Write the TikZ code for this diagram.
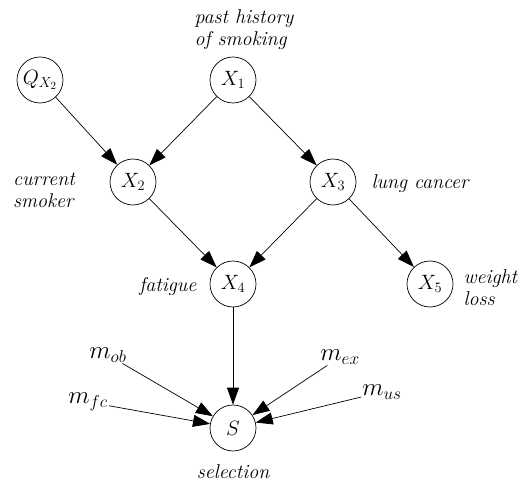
\documentclass[tikz,border=0pt]{standalone}
\usetikzlibrary{arrows.meta}
\begin{document}
\begin{tikzpicture}[x=1pt,y=-1pt,
    var/.style={draw,circle,minimum size=46pt,inner sep=0pt,line width=0.7pt,font=\fontsize{22}{24}\selectfont},
    mech/.style={inner sep=1pt,font=\fontsize{24}{26}\selectfont},
    lbl/.style={font=\fontsize{20}{22}\selectfont\itshape,align=left},
    edge/.style={-{Triangle[length=17pt,width=12pt]},line width=0.7pt}]
    \useasboundingbox (0,0) rectangle (530,486);
    % variables
    \node[var] (Q) at (40,80){$Q_{X_2}$};
    \node[var] (X1) at (233,80){$X_1$};
    \node[var] (X2) at (133,182){$X_2$};
    \node[var] (X3) at (333,182){$X_3$};
    \node[var] (X4) at (233,284){$X_4$};
    \node[var] (X5) at (430,284){$X_5$};
    \node[var] (S) at (233,428){$S$};
    % selection mechanisms
    \node[mech] (mob) at (108,355){$m_{ob}$};
    \node[mech] (mfc) at (88,402){$m_{fc}$};
    \node[mech] (mex) at (340,357){$m_{ex}$};
    \node[mech] (mus) at (382,392){$m_{us}$};
    % labels
    \node[lbl] (hist) at (244,30){past history\\of smoking};
    \node[lbl] (smok) at (44,190){current\\smoker};
    \node[lbl,anchor=west] (lung) at (368,184){lung cancer};
    \node[lbl,anchor=east] (fat) at (200,287){fatigue};
    \node[lbl,anchor=west] (wt) at (460,288){weight\\loss};
    \node[lbl] (sel) at (233,472){selection};
    % arcs
    \draw[edge] (Q) -- (X2);
    \draw[edge] (X1) -- (X2);
    \draw[edge] (X1) -- (X3);
    \draw[edge] (X2) -- (X4);
    \draw[edge] (X3) -- (X4);
    \draw[edge] (X3) -- (X5);
    \draw[edge] (X4) -- (S);
    \draw[edge] (mob) -- (S);
    \draw[edge] (mfc) -- (S);
    \draw[edge] (mex) -- (S);
    \draw[edge] (mus) -- (S);
\end{tikzpicture}
\end{document}
